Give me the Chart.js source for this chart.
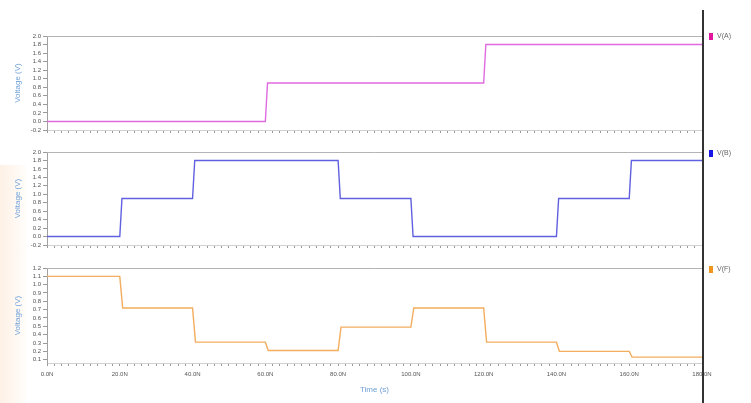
<!DOCTYPE html>
<html>
<head>
<meta charset="utf-8">
<script src="https://cdn.jsdelivr.net/npm/chart.js@4"></script>
<style>
  body { margin: 0; width: 751px; height: 403px; background: #fff; position: relative; overflow: hidden; font-family: "Liberation Sans", Arial, sans-serif; }
  .wrap { position: absolute; left: 0; width: 751px; }
  #peach { position: absolute; left: 0; top: 165px; width: 26px; height: 238px; background: linear-gradient(to right, rgba(252,214,180,0.35), rgba(252,225,200,0.08)); }
  #divider { position: absolute; left: 702px; top: 10px; width: 2px; height: 393px; background: #333; }
  .leg { position: absolute; left: 709px; font-size: 7px; color: #666; }
  .leg span { display: inline-block; width: 4px; height: 7px; vertical-align: middle; margin-right: 4px; }
</style>
</head>
<body>
<div id="peach"></div>
<div class="wrap" style="top:0;height:140px"><canvas id="chartA"></canvas></div>
<div class="wrap" style="top:140px;height:115px"><canvas id="chartB"></canvas></div>
<div class="wrap" style="top:255px;height:148px"><canvas id="chartF"></canvas></div>
<div id="divider"></div>
<div class="leg" style="top:32px"><span style="background:#e0169e"></span>V(A)</div>
<div class="leg" style="top:149px"><span style="background:#1616e6"></span>V(B)</div>
<div class="leg" style="top:265px"><span style="background:#f0961e"></span>V(F)</div>
<script>
// time in ns, voltage in V
const timeA = [0, 60, 60.6, 120, 120.6, 180];
const voltA = [0, 0, 0.9, 0.9, 1.8, 1.8];

const timeB = [0, 20, 20.6, 40, 40.6, 80, 80.6, 100, 100.6, 140, 140.6, 160, 160.6, 180];
const voltB = [0, 0, 0.9, 0.9, 1.8, 1.8, 0.9, 0.9, 0, 0, 0.9, 0.9, 1.8, 1.8];

const timeF = [0, 20, 20.8, 40, 40.8, 60, 60.8, 80, 80.8, 100, 100.8, 120, 120.8, 140, 140.8, 160, 160.8, 180];
const voltF = [1.1, 1.1, 0.72, 0.72, 0.31, 0.31, 0.21, 0.21, 0.49, 0.49, 0.72, 0.72, 0.31, 0.31, 0.2, 0.2, 0.13, 0.13];

const yTicksAB = [-0.2, 0, 0.2, 0.4, 0.6, 0.8, 1.0, 1.2, 1.4, 1.6, 1.8, 2.0];
const yTicksF = [0.1, 0.2, 0.3, 0.4, 0.5, 0.6, 0.7, 0.8, 0.9, 1.0, 1.1, 1.2];
const xLabelTicks = [0, 20, 40, 60, 80, 100, 120, 140, 160, 180];

const FONT = "'Liberation Sans', Arial, sans-serif";

const topBorder = {
    id: 'topBorder',
    afterDraw(chart) {
        const a = chart.chartArea, ctx = chart.ctx;
        ctx.save();
        ctx.strokeStyle = '#b4b4b4';
        ctx.lineWidth = 1;
        ctx.beginPath();
        ctx.moveTo(a.left, a.top + 0.5);
        ctx.lineTo(a.right, a.top + 0.5);
        ctx.stroke();
        ctx.restore();
    }
};

function makeChart(id, times, volts, color, yMin, yMax, yTicks, pad, showX) {
    const pts = times.map((t, i) => ({ x: t, y: volts[i] }));
    return new Chart(document.getElementById(id), {
        type: 'line',
        data: {
            datasets: [{
                data: pts,
                borderColor: color,
                borderWidth: 1.4,
                pointRadius: 0,
                tension: 0
            }]
        },
        options: {
            responsive: true,
            maintainAspectRatio: false,
            animation: false,
            layout: { padding: { left: 11, right: 49, top: pad.top, bottom: pad.bottom } },
            plugins: { legend: { display: false }, tooltip: { enabled: false } },
            scales: {
                x: {
                    type: 'linear',
                    min: 0,
                    max: 180,
                    afterBuildTicks: s => {
                        const t = [];
                        for (let v = 0; v <= 180; v += 2) t.push({ value: v });
                        s.ticks = t;
                    },
                    afterFit: s => { s.height = pad.axis; },
                    border: { display: true, color: '#d0d0d0' },
                    grid: { drawOnChartArea: false, tickLength: 3, color: '#9a9a9a' },
                    ticks: {
                        autoSkip: false,
                        maxRotation: 0,
                        padding: 5,
                        color: '#555',
                        font: { size: 6, family: FONT },
                        callback: v => (showX && xLabelTicks.includes(v)) ? v.toFixed(1) + 'N' : ''
                    },
                    title: {
                        display: showX,
                        text: 'Time (s)',
                        color: '#6fa0d8',
                        padding: { top: 0, bottom: 0 },
                        font: { size: 8, family: FONT }
                    }
                },
                y: {
                    min: yMin,
                    max: yMax,
                    afterBuildTicks: s => { s.ticks = yTicks.map(v => ({ value: v })); },
                    afterFit: s => { s.width = 36; },
                    border: { display: true, color: '#a0a0a0' },
                    grid: { drawOnChartArea: false, tickLength: 4, color: '#9a9a9a' },
                    ticks: {
                        autoSkip: false,
                        padding: 2,
                        color: '#555',
                        font: { size: 6, family: FONT },
                        callback: v => v.toFixed(1)
                    },
                    title: {
                        display: true,
                        text: 'Voltage (V)',
                        color: '#6fa0d8',
                        padding: { top: 2, bottom: 2 },
                        font: { size: 8, family: FONT }
                    }
                }
            }
        },
        plugins: [topBorder]
    });
}

makeChart('chartA', timeA, voltA, '#e06ae0', -0.2, 2.0, yTicksAB, { top: 36, bottom: 0, axis: 10 }, false);
makeChart('chartB', timeB, voltB, '#6060e0', -0.2, 2.0, yTicksAB, { top: 12, bottom: 0, axis: 10 }, false);
makeChart('chartF', timeF, voltF, '#f3ad5e', 0.06, 1.2, yTicksF, { top: 13, bottom: 8, axis: 32 }, true);
</script>
</body>
</html>
